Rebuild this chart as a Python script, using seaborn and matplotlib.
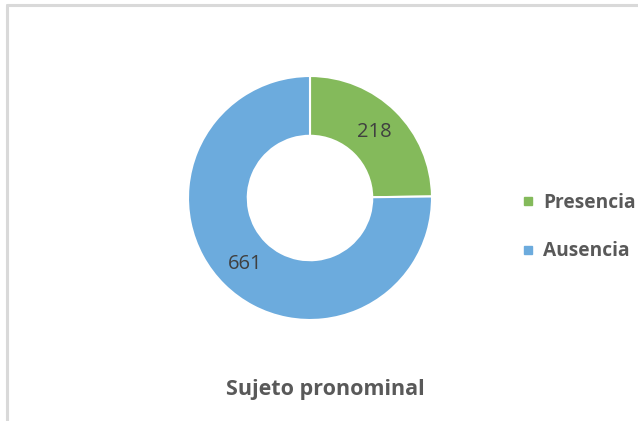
import numpy as np
import seaborn as sns
import matplotlib.pyplot as plt
from matplotlib.lines import Line2D

categories = ["Presencia", "Ausencia"]
counts = [218, 661]
colors = ["#84BA5B", "#6CABDD"]

sns.set_theme(style="white")
plt.rcParams['font.family'] = ['Open Sans', 'DejaVu Sans']

W, H = 638, 421
fig = plt.figure(figsize=(W / 100, H / 100), dpi=100)

# donut centre / radius in pixels
cx, cy, r = 310, 198, 122
ax = fig.add_axes([(cx - r) / W, (H - cy - r) / H, 2 * r / W, 2 * r / H])
wedges, _ = ax.pie(counts, colors=colors, startangle=90, counterclock=False,
                   radius=1, wedgeprops=dict(width=0.49, edgecolor="white", linewidth=1.5))
for w, v in zip(wedges, counts):
    ang = np.deg2rad((w.theta1 + w.theta2) / 2)
    ax.text(0.755 * np.cos(ang), 0.755 * np.sin(ang), str(v), ha="center", va="center",
            fontsize=14.5, color="#404040")
ax.set_xlim(-1, 1)
ax.set_ylim(-1, 1)
ax.set_aspect("equal")
ax.axis("off")

handles = [Line2D([], [], marker="s", linestyle="none", markersize=6,
                  markerfacecolor=c, markeredgecolor=c) for c in colors]
leg = fig.legend(handles, categories, loc="center left",
                 bbox_to_anchor=(521 / W, (H - 227) / H), frameon=False,
                 borderaxespad=0, borderpad=0,
                 prop=dict(weight="bold", size=13.8), labelspacing=1.5,
                 handlelength=0.7, handletextpad=0.45)
for t in leg.get_texts():
    t.set_color("#595959")

fig.text(325 / W, (H - 389) / H, "Sujeto pronominal", ha="center", va="center",
         fontsize=15.5, fontweight="bold", color="#595959")

# partial chart frame (top and left edges)
fig.add_artist(Line2D([7 / W, 7 / W], [0, (H - 5) / H], color="#D9D9D9", lw=2.2,
                      transform=fig.transFigure))
fig.add_artist(Line2D([7 / W, 1], [(H - 5) / H, (H - 5) / H], color="#D9D9D9", lw=2.2,
                      transform=fig.transFigure))

fig.savefig("out.png", dpi=100)
